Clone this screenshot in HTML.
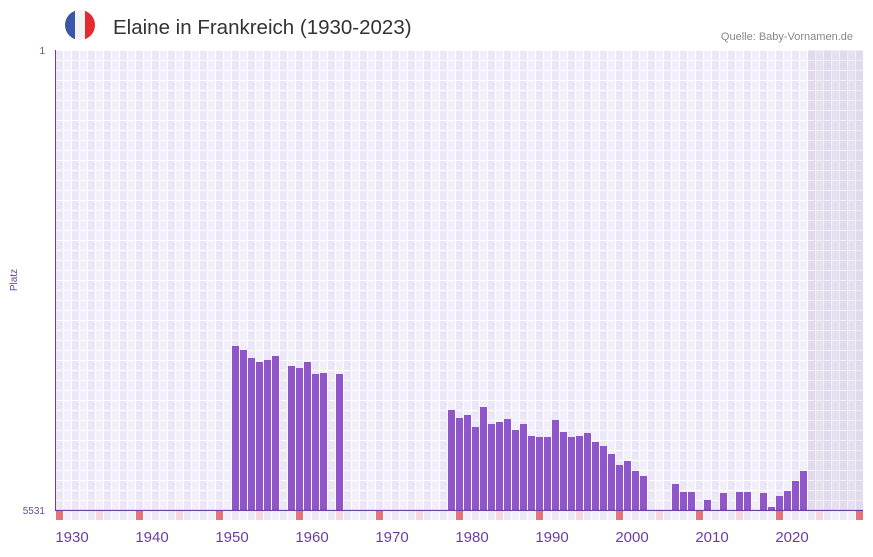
<!DOCTYPE html>
<html><head><meta charset="utf-8"><style>
body{margin:0;background:#fff;width:873px;height:552px;overflow:hidden;font-family:"Liberation Sans",sans-serif}
</style></head><body>
<svg width="873" height="552" xmlns="http://www.w3.org/2000/svg" font-family="Liberation Sans, sans-serif">
<defs>
<pattern id="g" x="55" y="50" width="16" height="10" patternUnits="userSpaceOnUse">
<rect width="16" height="10" fill="#fff"/>
<rect x="1" y="1" width="7" height="9" fill="#ece7f8"/>
<rect x="9" y="1" width="7" height="9" fill="#f2effb"/>
</pattern>
<clipPath id="c"><circle cx="80" cy="25" r="15"/></clipPath>
</defs>
<g clip-path="url(#c)">
<rect x="65" y="10" width="10" height="30" fill="#3a56a8"/>
<rect x="75" y="10" width="10" height="30" fill="#f2f2f2"/>
<rect x="85" y="10" width="10" height="30" fill="#e52a2f"/>
</g>
<text x="113" y="34" font-size="20.5" fill="#333">Elaine in Frankreich (1930-2023)</text>
<text x="853" y="40" font-size="11" fill="#888" text-anchor="end">Quelle: Baby-Vornamen.de</text>
<rect x="55" y="50" width="808" height="460" fill="url(#g)"/>
<rect x="808" y="50" width="55" height="460" fill="#8a7aa0" opacity="0.12"/>
<line x1="55.5" y1="50" x2="55.5" y2="511" stroke="#6a3fa0" stroke-width="1"/>
<text x="45" y="54" font-size="10" fill="#6a4a9a" text-anchor="end">1</text>
<text x="45" y="514" font-size="10" fill="#6a4a9a" text-anchor="end">5531</text>
<text x="17" y="280" font-size="10" fill="#6a3fa0" text-anchor="middle" transform="rotate(-90 17 280)">Platz</text>
<g fill="#8e56c8" id="bars"></g>
<line x1="55" y1="510.5" x2="863" y2="510.5" stroke="#6a3fa0" stroke-width="1.2"/>
<g id="mk"></g>
<g font-size="15" fill="#6a3fa0" text-anchor="middle">
<text x="72" y="542">1930</text><text x="152" y="542">1940</text><text x="232" y="542">1950</text>
<text x="312" y="542">1960</text><text x="392" y="542">1970</text><text x="472" y="542">1980</text>
<text x="552" y="542">1990</text><text x="632" y="542">2000</text><text x="712" y="542">2010</text>
<text x="792" y="542">2020</text>
</g>
</svg>
<script>
var d={1950:346,1951:350,1952:358,1953:362,1954:360,1955:356,1957:366,1958:368,1959:362,1960:374,1961:373,1963:374,
1977:410,1978:418,1979:415,1980:427,1981:407,1982:424,1983:422,1984:419,1985:430,1986:424,1987:436,1988:437,1989:437,1990:420,1991:432,1992:437,1993:436,1994:433,1995:442,1996:446,1997:454,1998:465,1999:461,2000:471,2001:476,
2005:484,2006:492,2007:492,2009:500,2011:493,2013:492,2014:492,2016:493,2017:507,2018:496,2019:491,2020:481,2021:471};
var ns="http://www.w3.org/2000/svg",b=document.getElementById('bars');
for(var y in d){var r=document.createElementNS(ns,'rect');r.setAttribute('x',232+(y-1950)*8);r.setAttribute('y',d[y]);r.setAttribute('width',7);r.setAttribute('height',510-d[y]);b.appendChild(r);}
var m=document.getElementById('mk');
for(var i=0;i<101;i++){var yr=1928+i;var c=(yr%10==8)?'#e57378':(yr%10==3)?'#f5d5e0':(i%2?'#f2effb':'#ece7f8');
var r=document.createElementNS(ns,'rect');r.setAttribute('x',56+i*8);r.setAttribute('y',511);r.setAttribute('width',7);r.setAttribute('height',9);r.setAttribute('fill',c);m.appendChild(r);}
</script>
</body></html>
